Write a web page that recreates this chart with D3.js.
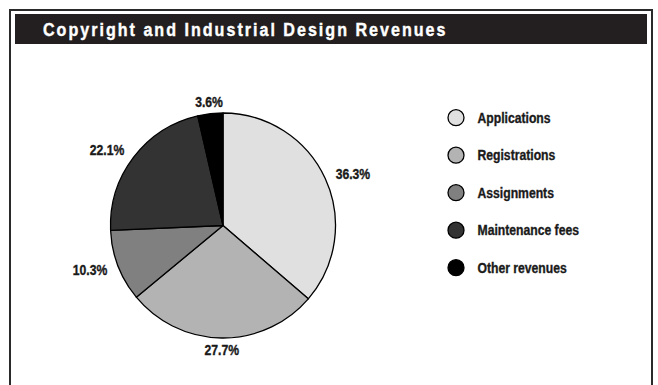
<!DOCTYPE html>
<html>
<head>
<meta charset="utf-8">
<script src="https://cdn.jsdelivr.net/npm/d3@7"></script>
<style>
  html, body { margin: 0; padding: 0; background: #fff; }
  svg { display: block; }
  text { font-family: "Liberation Sans", Arial, sans-serif; font-weight: bold; }
</style>
</head>
<body>
<svg id="chart" width="658" height="385"></svg>
<script>
// Revenue breakdown, in percent, drawn clockwise from twelve o'clock
const categories = ["Applications", "Registrations", "Assignments", "Maintenance fees", "Other revenues"];
const shares = [36.3, 27.7, 10.3, 22.1, 3.6];
const fills = ["#e0e0e0", "#b3b3b3", "#808080", "#333333", "#000000"];
const title = "Copyright and Industrial Design Revenues";

// No condensed face is installed, so text is narrowed horizontally
// and given a thin outline to keep its weight.
const narrow = 0.87;
const ink = "#1a1a1a";

const svg = d3.select("#chart");

// Frame and title bar
svg.append("rect")
  .attr("x", 10).attr("y", 10).attr("width", 642).attr("height", 400)
  .attr("fill", "none").attr("stroke", "#2a2a2a").attr("stroke-width", 2);
svg.append("rect")
  .attr("x", 15).attr("y", 14).attr("width", 632).attr("height", 30)
  .attr("fill", "#231f20");
svg.append("text")
  .attr("transform", `translate(43,35.7) scale(${narrow},1)`)
  .attr("fill", "#fff")
  .attr("stroke", "#fff")
  .attr("stroke-width", 0.4)
  .attr("font-size", 18.5)
  .attr("letter-spacing", 2.3)
  .text(title);

// Pie
const cx = 223, cy = 225.5, radius = 112.5, labelRadius = 124;
const color = d3.scaleOrdinal().domain(categories).range(fills);
const pie = d3.pie().sort(null).value(d => d.value);
const data = categories.map((c, i) => ({ name: c, value: shares[i] }));
const arcs = pie(data);
const arc = d3.arc().innerRadius(0).outerRadius(radius);
const labelArc = d3.arc().innerRadius(labelRadius).outerRadius(labelRadius);

const g = svg.append("g").attr("transform", `translate(${cx},${cy})`);
g.selectAll("path.slice")
  .data(arcs)
  .join("path")
  .attr("class", "slice")
  .attr("d", arc)
  .attr("fill", d => color(d.data.name))
  .attr("stroke", "#000")
  .attr("stroke-width", 1.3)
  .attr("stroke-linejoin", "round");

g.selectAll("text.pct")
  .data(arcs)
  .join("text")
  .attr("class", "pct")
  .each(function (d) {
    const [x, y] = labelArc.centroid(d);
    const mid = (d.startAngle + d.endAngle) / 2;
    const s = Math.sin(mid);
    const anchor = s > 0.3 ? "start" : s < -0.3 ? "end" : "middle";
    d3.select(this)
      .attr("transform", `translate(${x},${y}) scale(${narrow},1)`)
      .attr("text-anchor", anchor);
  })
  .attr("dy", "0.36em")
  .attr("font-size", 14)
  .attr("fill", ink)
  .attr("stroke", ink)
  .attr("stroke-width", 0.35)
  .text(d => d.data.value.toFixed(1) + "%");

// Legend
const legendY = d3.scalePoint().domain(categories).range([117.7, 267.7]);
const items = svg.append("g").selectAll("g")
  .data(categories)
  .join("g")
  .attr("transform", d => `translate(456,${legendY(d)})`);
items.append("circle")
  .attr("r", 8)
  .attr("fill", d => color(d))
  .attr("stroke", "#000")
  .attr("stroke-width", 1.3);
items.append("text")
  .attr("transform", `translate(21.5,0) scale(${narrow},1)`)
  .attr("dy", "0.36em")
  .attr("font-size", 14)
  .attr("fill", ink)
  .attr("stroke", ink)
  .attr("stroke-width", 0.35)
  .text(d => d);
</script>
</body>
</html>
